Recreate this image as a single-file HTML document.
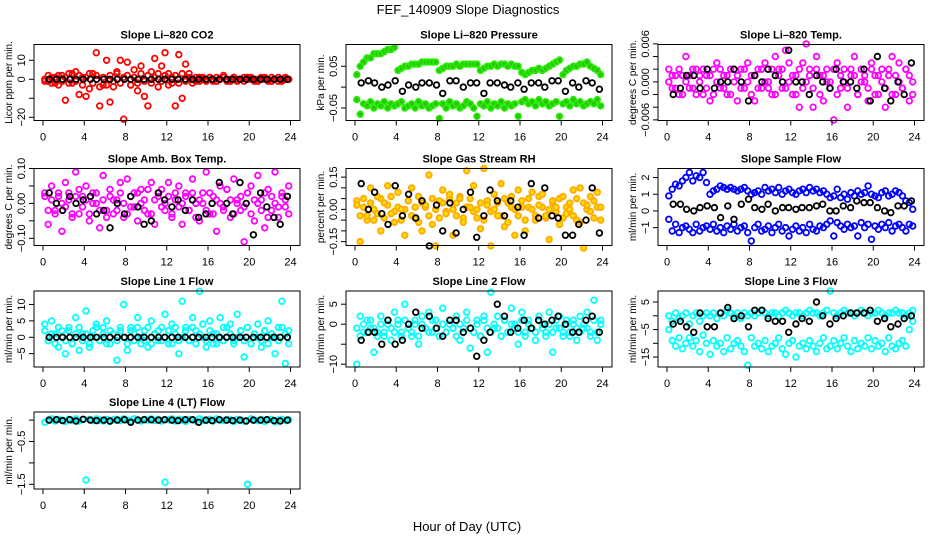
<!DOCTYPE html>
<html><head><meta charset="utf-8"><style>
html,body{margin:0;padding:0;background:#fff;}
svg{display:block;font-family:"Liberation Sans",Arial,sans-serif;}
</style></head><body>
<svg id="chart" width="936" height="540" viewBox="0 0 936 540">
<text x="468" y="14" text-anchor="middle" font-size="13">FEF_140909  Slope Diagnostics</text>
<text x="467" y="531" text-anchor="middle" font-size="13">Hour of Day (UTC)</text>
</svg>
<script>
const hours72=[0.17,0.5,0.83,1.17,1.5,1.83,2.17,2.5,2.83,3.17,3.5,3.83,4.17,4.5,4.83,5.17,5.5,5.83,6.17,6.5,6.83,7.17,7.5,7.83,8.17,8.5,8.83,9.17,9.5,9.83,10.17,10.5,10.83,11.17,11.5,11.83,12.17,12.5,12.83,13.17,13.5,13.83,14.17,14.5,14.83,15.17,15.5,15.83,16.17,16.5,16.83,17.17,17.5,17.83,18.17,18.5,18.83,19.17,19.5,19.83,20.17,20.5,20.83,21.17,21.5,21.83,22.17,22.5,22.83,23.17,23.5,23.83];
const hours36=[0.6,1.3,1.9,2.6,3.2,3.9,4.6,5.2,5.9,6.5,7.2,7.9,8.5,9.2,9.8,10.5,11.2,11.8,12.5,13.1,13.8,14.5,15.1,15.8,16.4,17.1,17.8,18.4,19.1,19.7,20.4,21.1,21.7,22.4,23,23.7];
const xTicks=[0,4,8,12,16,20,24];

const co2Red=[0,-1,1,-2,2,-1,-11,3,-2,4,-8,1,-9,-5,3,14,-14,-3,10,-12,-4,4,10,-21,9,-3,5,-6,7,-9,-14,4,11,-4,7,14,3,-2,-14,13,-10,8,3,-2,1,-1,1,0,1,-1,1,0,2,-1,0,1,-1,0,1,0,1,0,-1,0,1,0,-1,0,1,-1,0,0];
const co2Band=[-1,2,-2,1,-3,2,1,-2,3,-1,2,-3,1,3,-2,2,-4,1,-3,2,-1,3,-2,1,2,-3,1,-2,3,-1,2,-2,1,3,-1,2,-3,1,2,-2,3,-1,1,0,-1,1,0,-1,1,0,-1,0,1,0,-1,1,0,0,-1,1,0,-1,0,1,0,-1,1,0,-1,0,1,0];
const co2Black=[0,0,0,0,0,0,0,0,0,0,0,0,0,0,0,0,0,0,0,0,0,0,0,0,0,0,0,0,0,0,0,0,0,0,0,0];
const presUpper=[0.03,0.05,0.06,0.07,0.07,0.08,0.08,0.08,0.085,0.09,0.09,0.095,0.04,0.045,0.05,0.05,0.055,0.055,0.055,0.06,0.06,0.06,0.06,0.06,0.04,0.045,0.05,0.05,0.05,0.055,0.05,0.055,0.055,0.055,0.055,0.055,0.04,0.045,0.05,0.05,0.055,0.05,0.055,0.055,0.05,0.055,0.05,0.05,0.035,0.03,0.035,0.04,0.04,0.045,0.04,0.045,0.05,0.055,0.06,0.065,0.03,0.04,0.045,0.05,0.05,0.055,0.055,0.06,0.05,0.045,0.04,0.03];
const presLower=[-0.03,-0.065,-0.04,-0.045,-0.035,-0.05,-0.04,-0.045,-0.035,-0.05,-0.04,-0.045,-0.04,-0.035,-0.05,-0.045,-0.04,-0.05,-0.035,-0.045,-0.04,-0.05,-0.045,-0.04,-0.075,-0.04,-0.05,-0.035,-0.045,-0.04,-0.05,-0.045,-0.035,-0.04,-0.05,-0.07,-0.04,-0.045,-0.035,-0.05,-0.04,-0.045,-0.035,-0.05,-0.04,-0.045,-0.04,-0.07,-0.035,-0.03,-0.04,-0.035,-0.045,-0.03,-0.04,-0.035,-0.045,-0.04,-0.035,-0.07,-0.04,-0.035,-0.045,-0.03,-0.04,-0.035,-0.045,-0.04,-0.035,-0.04,-0.03,-0.045];
const presBlack=[0.01,0.015,0.01,0,0.005,0.015,-0.01,0.005,0,0.01,0.01,0.005,-0.015,0.015,0.015,0,0.01,0.01,-0.015,0.01,0.01,0.005,0,0.01,-0.005,0.01,0.01,0,0.015,0.015,-0.01,0.01,0,0.015,0.01,-0.005];
const tempMag=[0,0.001,-0.001,0.002,-0.002,0.004,0.001,-0.001,0.002,0,-0.002,0.001,-0.003,0.002,0.003,-0.001,0.001,-0.002,0.002,0,-0.003,0.002,-0.001,0.003,0.001,-0.003,0.002,-0.001,0.003,0,-0.002,0.004,0.002,-0.001,0.005,0.003,-0.002,0.001,-0.004,0.003,0.006,0.002,-0.004,0.004,0.001,-0.003,0.002,0,-0.006,0.003,-0.001,0.002,-0.004,0.001,0.004,-0.002,0.002,0,-0.003,0.003,0.001,-0.002,0.002,-0.004,0.001,0.004,-0.002,0.003,-0.001,0.002,-0.003,0];
const tempBand=[0.002,-0.001,0.001,-0.002,0.001,0,-0.001,0.002,-0.002,0.001,0.002,-0.001,0.001,-0.002,0,0.002,-0.001,0.001,-0.002,0.002,0.001,-0.001,0.002,0,-0.002,0.001,-0.001,0.002,0,-0.001,0.002,-0.002,0.001,0.002,-0.001,0,0.001,-0.002,0.002,-0.001,0,0.001,-0.001,0.002,-0.002,0.001,0,-0.001,0.002,-0.002,0.001,0,-0.001,0.002,0.001,-0.002,0,0.001,-0.001,0.002,-0.002,0.001,0,-0.001,0.002,-0.002,0.001,0,-0.001,0.002,0.001,-0.002];
const tempBlack=[-0.002,-0.001,0.001,0.001,-0.001,0.002,-0.001,0,0,0.002,0,-0.003,0.001,0,0.002,0.001,0,0.005,0,0,-0.002,0.001,0,-0.001,0.002,0,0,-0.001,0.002,-0.003,0.004,-0.001,-0.003,0,-0.002,0.003];
const ambMag=[0.02,-0.06,0.05,-0.02,0.03,-0.08,0.06,0.01,-0.04,0.09,-0.03,0.02,0.05,-0.05,0.03,0,-0.07,0.08,-0.02,0.04,-0.03,0.01,0.06,-0.04,0.07,-0.01,0.03,-0.05,0.04,0.01,-0.03,0.06,-0.06,0.02,0.04,-0.02,0.06,-0.04,0.01,0.05,-0.06,0.03,-0.02,0.07,0,-0.05,0.03,0.09,-0.03,0.02,-0.08,0.05,-0.01,0.04,-0.04,0.07,0.01,-0.02,-0.11,0.03,0.05,-0.05,0.08,0.01,-0.07,0.04,-0.02,0.09,-0.04,0.02,-0.01,0.05];
const ambBand=[0.03,-0.02,0.01,-0.03,0.02,0,-0.01,0.03,-0.03,0.02,0.04,-0.01,0.01,-0.03,0,0.03,-0.02,0.01,-0.04,0.02,0.01,-0.02,0.03,0,-0.03,0.02,-0.01,0.03,0,-0.02,0.04,-0.03,0.01,0.03,-0.01,0,0.02,-0.03,0.03,-0.01,0,0.02,-0.02,0.03,-0.04,0.01,0,-0.02,0.03,-0.03,0.01,0,-0.02,0.04,0.01,-0.03,0,0.02,-0.01,0.03,-0.03,0.01,0,-0.02,0.03,-0.04,0.02,0,-0.01,0.03,0.01,-0.03];
const ambBlack=[0.03,0,-0.02,0.02,0,0.01,0.02,-0.03,-0.02,-0.07,0,-0.03,0.02,-0.01,-0.06,-0.05,0.03,0.01,-0.01,0.01,-0.02,0.01,-0.04,-0.03,0,0.06,0,-0.03,0.06,0,-0.09,0.03,-0.01,-0.04,-0.06,0.02];
const rhOrange=[0.02,-0.15,0.05,-0.03,0.1,-0.05,0.06,-0.1,0.03,0.11,-0.02,-0.06,0.08,0,-0.12,0.04,0.1,-0.04,0.06,-0.1,0.02,0.16,-0.07,-0.17,0.04,0.09,-0.02,0.07,-0.12,0.03,0.05,-0.06,0.18,0.01,0.11,-0.04,-0.09,0.19,0.02,-0.17,0.07,-0.03,0.12,-0.08,0.03,0.06,-0.12,0.09,0.01,-0.1,0.05,0.08,-0.05,0.02,0.07,-0.03,-0.14,0.04,0.01,-0.07,0.06,-0.02,0.03,0.09,-0.05,0.1,-0.18,0.02,0.06,-0.04,0.08,0.01];
const rhBand=[0.04,-0.03,0.01,-0.05,0.03,0,-0.02,0.05,-0.04,0.02,0.06,-0.01,0.01,-0.05,0,0.04,-0.03,0.01,-0.06,0.03,0.01,-0.03,0.05,0,-0.04,0.03,-0.01,0.05,0,-0.03,0.06,-0.04,0.01,0.05,-0.01,0,0.03,-0.05,0.04,-0.01,0,0.03,-0.03,0.05,-0.06,0.01,0,-0.03,0.04,-0.05,0.01,0,-0.03,0.06,0.01,-0.04,0,0.03,-0.01,0.05,-0.04,0.01,0,-0.03,0.05,-0.06,0.03,0,-0.01,0.04,0.01,-0.05];
const rhBlack=[0.12,0,0.08,-0.02,-0.07,0.11,-0.03,0.07,-0.04,0.04,-0.17,0.02,-0.1,0.03,-0.11,0,0.08,-0.13,-0.03,0.09,0.04,-0.03,0.04,0.01,-0.12,0.12,-0.04,0.1,-0.03,-0.04,-0.12,-0.12,-0.07,-0.05,0.1,-0.11];
const flowUpper=[0.9,1.3,1.6,1.5,1.8,2.0,2.3,1.8,2.1,2.0,2.3,1.7,1.0,1.2,1.3,1.5,1.4,1.3,1.4,1.3,1.2,1.3,1.4,1.2,1.0,1.1,1.2,1.0,1.4,1.2,1.3,1.1,1.4,1.0,1.2,1.3,1.1,1.0,1.2,1.3,1.1,1.4,1.2,1.3,1.1,1.2,1.0,0.8,0.9,1.3,0.8,1.0,0.7,1.1,0.9,1.2,1.0,1.1,1.5,1.0,0.9,0.8,1.1,1.2,0.9,1.0,1.2,1.1,0.9,0.6,0.5,0.1];
const flowLower=[-0.5,-1.2,-0.8,-1.3,-1.0,-0.9,-1.1,-1.3,-0.8,-1.2,-1.0,-0.9,-1.1,-0.8,-1.2,-1.0,-1.3,-0.9,-1.1,-0.8,-1.2,-1.0,-0.9,-1.3,-1.8,-1.0,-0.8,-1.2,-1.1,-0.9,-1.3,-1.0,-0.8,-1.2,-1.0,-1.5,-1.1,-0.9,-1.2,-1.0,-1.3,-0.8,-1.1,-1.2,-0.9,-1.0,-0.8,-0.6,-1.5,-0.7,-0.9,-1.1,-0.8,-1.0,-0.9,-1.5,-0.7,-1.0,-0.8,-1.7,-0.9,-1.1,-0.8,-1.0,-0.7,-1.2,-0.9,-0.8,-1.0,-1.2,-0.8,-0.9];
const flowBlack=[0.4,0.4,0.1,0,0.2,0.3,0.2,-0.4,0.3,-0.5,0.4,0.7,0.2,0.1,0.4,0,0.2,0.2,0.1,0.2,0.2,0.3,0.4,0,0,0.3,0.2,0.6,0.5,0.5,0.2,0,-0.1,0.3,0.3,0.6];
const line1Cyan=[4,-1,5,1,-3,2,-5,3,-2,6,-4,1,8,-3,2,4,-1,3,5,-2,1,-7,2,10,-4,3,1,6,-2,2,-3,5,1,-1,3,7,-2,4,1,-5,11,3,-1,6,2,14,4,-3,5,1,-2,6,3,0,4,-1,7,2,-6,3,-2,1,4,-3,2,5,0,-5,3,11,-8,2];
const line1Band=[2,-1,1,-2,3,0,-1,2,-2,1,3,-1,1,-2,0,3,-1,1,-2,2,1,-1,3,0,-2,2,-1,3,0,-1,3,-2,1,2,-1,0,2,-2,3,-1,0,2,-1,3,-2,1,0,-1,2,-2,1,0,-1,3,1,-2,0,2,-1,3,-2,1,0,-1,2,-2,1,0,-1,3,1,-2];
const line1Black=[0,0,0,0,0,0,0,0,0,0,0,0,0,0,0,0,0,0,0,0,0,0,0,0,0,0,0,0,0,0,0,0,0,0,0,0];
const line2Cyan=[-10,2,-2,1,-1,-7,-3,2,-2,0,-4,3,1,-2,5,-1,-3,0,-5,2,-1,3,-2,1,-3,4,-2,0,-1,2,-4,-1,3,-6,-2,1,-3,2,-7,8,-1,2,-3,1,-2,4,0,-5,3,-2,1,-1,-4,2,0,-2,3,-7,-1,2,-3,1,-2,0,-4,2,-1,3,-2,6,-4,1];
const line2Band=[-1,-3,0,-2,1,-1,-2,0,-3,1,-1,-2,0,-3,1,-1,-2,1,-3,0,-1,-2,1,-1,-3,0,-2,1,-1,-3,0,-2,1,-1,-2,0,-3,1,-1,-2,0,-1,-3,1,-2,0,-1,-2,1,-3,0,-1,-2,1,-1,-3,0,-2,1,-1,-2,0,-3,1,-1,-2,0,-1,-3,1,-2,0];
const line2Black=[-4,-2,-2,-5,1,-5,-4,0,3,-1,2,-1,-3,1,1,-2,-1,-8,-4,-2,5,2,-2,-1,1,-1,1,0,1,2,0,-2,-2,1,2,-2];
const line3Upper=[0,-2,1,-1,0,1,-3,0,1,-2,0,1,0,1,-1,1,0,2,1,0,1,-1,1,0,1,0,1,2,1,0,1,1,0,1,2,1,0,1,1,0,1,2,1,1,0,1,2,9,1,0,1,2,1,1,0,1,2,1,0,1,1,2,1,0,1,1,2,1,1,0,1,2];
const line3Lower=[-5,-9,-11,-8,-12,-10,-8,-11,-9,-13,-7,-10,-14,-9,-11,-10,-13,-8,-12,-10,-9,-11,-13,-18,-8,-11,-10,-12,-9,-13,-11,-10,-8,-12,-14,-10,-9,-15,-11,-10,-12,-9,-11,-13,-10,-8,-12,-11,-9,-12,-10,-8,-11,-13,-9,-12,-10,-11,-8,-12,-9,-11,-10,-13,-8,-11,-12,-10,-9,-11,-5,-2];
const line3Black=[-3,-2,-4,-6,1,-4,-4,1,3,-1,0,-4,2,2,-1,-2,-2,-6,-3,-1,-2,5,0,-3,-1,0,1,1,1,2,-2,-1,-4,-3,-1,0];
const line4Cyan=[-0.05,0,0.03,-0.02,0.02,0,-0.03,0.02,-0.01,0.03,-0.02,0.01,-1.4,0.02,-0.01,0.03,0,-0.02,0.02,-0.03,0.01,0.02,-0.01,0.03,0,-0.02,0.03,0.01,-0.02,0.02,0,0.03,-0.01,0.02,-0.02,-1.45,0.01,0.03,-0.02,0.02,0,-0.03,0.02,0.01,-0.02,0.03,0,-0.01,0.02,-0.02,0.03,0,-0.01,0.02,0.01,-0.03,0.02,0,-0.02,-1.5,0.03,0,-0.01,0.02,-0.03,0.01,0.02,-0.04,0,0.02,-0.01,0.01];
const line4Black=[0,0.01,-0.01,0.01,-0.02,0.02,0,-0.01,0,-0.02,0,0.01,-0.05,0,0.01,0.01,0,0.01,0,-0.01,0.01,0.01,-0.05,0,-0.01,0.01,0,-0.01,0,-0.02,0,0,0.01,-0.01,-0.02,0];

const colLeft=[34,346,658];
const rowTop=[44.5,168.5,291,412];
const rowBottom=[120.5,245.5,367,489];
const NS="http://www.w3.org/2000/svg";
const svg=document.getElementById('chart');
function mk(tag,attrs,parent){const e=document.createElementNS(NS,tag);for(const k in attrs)e.setAttribute(k,attrs[k]);(parent||svg).appendChild(e);return e;}

const panels=[
 {slug:'li820-co2',title:'Slope Li\u2013820 CO2',ylab:'Licor ppm per min.',c:0,r:0,ymin:-21.7,ymax:18.3,ticks:[-20,-10,0,10],labels:['\u221220','','0','10'],
  series:[{v:co2Band,h:hours72,s:'#ff0000',f:'none'},{v:co2Red,h:hours72,s:'#ff0000',f:'none'},{v:co2Black,h:hours36,s:'#000',f:'none'}]},
 {slug:'li820-pressure',title:'Slope Li\u2013820 Pressure',ylab:'kPa per min.',c:1,r:0,ymin:-0.08,ymax:0.102,ticks:[-0.05,0,0.05],labels:['\u22120.05','','0.05'],
  series:[{v:presUpper,h:hours72,s:'#22ee00',f:'#33bb11'},{v:presLower,h:hours72,s:'#22ee00',f:'#33bb11'},{v:presBlack,h:hours36,s:'#000',f:'none'}]},
 {slug:'li820-temp',title:'Slope Li\u2013820 Temp.',ylab:'degrees C per min.',c:2,r:0,ymin:-0.0061,ymax:0.0059,ticks:[-0.006,-0.004,-0.002,0,0.002,0.004,0.006],labels:['\u22120.006','','','0.000','','','0.006'],
  series:[{v:tempBand,h:hours72,s:'#ff00ff',f:'none'},{v:tempMag,h:hours72,s:'#ff00ff',f:'none'},{v:tempBlack,h:hours36,s:'#000',f:'none'}]},
 {slug:'amb-box-temp',title:'Slope Amb. Box Temp.',ylab:'degrees C per min.',c:0,r:1,ymin:-0.1206,ymax:0.1,ticks:[-0.1,-0.05,0,0.05,0.1],labels:['\u22120.10','','0.00','','0.10'],
  series:[{v:ambBand,h:hours72,s:'#ff00ff',f:'none'},{v:ambMag,h:hours72,s:'#ff00ff',f:'none'},{v:ambBlack,h:hours36,s:'#000',f:'none'}]},
 {slug:'gas-stream-rh',title:'Slope Gas Stream RH',ylab:'percent per min.',c:1,r:1,ymin:-0.168,ymax:0.19,ticks:[-0.15,-0.1,-0.05,0,0.05,0.1,0.15],labels:['\u22120.15','','','0.00','','','0.15'],
  series:[{v:rhBand,h:hours72,s:'#ffaa00',f:'#ffdd00'},{v:rhOrange,h:hours72,s:'#ffaa00',f:'#ffdd00'},{v:rhBlack,h:hours36,s:'#000',f:'none'}]},
 {slug:'sample-flow',title:'Slope Sample Flow',ylab:'ml/min per min.',c:2,r:1,ymin:-2.07,ymax:2.54,ticks:[-1,0,1,2],labels:['\u22121','0','1','2'],
  series:[{v:flowUpper,h:hours72,s:'#0000ff',f:'none'},{v:flowLower,h:hours72,s:'#0000ff',f:'none'},{v:flowBlack,h:hours36,s:'#000',f:'none'}]},
 {slug:'line1-flow',title:'Slope Line 1 Flow',ylab:'ml/min per min.',c:0,r:2,ymin:-9.06,ymax:14.1,ticks:[-5,0,5,10],labels:['\u22125','0','5','10'],
  series:[{v:line1Band,h:hours72,s:'#00ffff',f:'none'},{v:line1Cyan,h:hours72,s:'#00ffff',f:'none'},{v:line1Black,h:hours36,s:'#000',f:'none'}]},
 {slug:'line2-flow',title:'Slope Line 2 Flow',ylab:'ml/min per min.',c:1,r:2,ymin:-10.7,ymax:8.3,ticks:[-10,-5,0,5],labels:['\u221210','','0','5'],
  series:[{v:line2Band,h:hours72,s:'#00ffff',f:'none'},{v:line2Cyan,h:hours72,s:'#00ffff',f:'none'},{v:line2Black,h:hours36,s:'#000',f:'none'}]},
 {slug:'line3-flow',title:'Slope Line 3 Flow',ylab:'ml/min per min.',c:2,r:2,ymin:-18.6,ymax:9.0,ticks:[-15,-10,-5,0,5],labels:['\u221215','','\u22125','','5'],
  series:[{v:line3Upper,h:hours72,s:'#00ffff',f:'none'},{v:line3Lower,h:hours72,s:'#00ffff',f:'none'},{v:line3Black,h:hours36,s:'#000',f:'none'}]},
 {slug:'line4-lt-flow',title:'Slope Line 4 (LT) Flow',ylab:'ml/min per min.',c:0,r:3,ymin:-1.61,ymax:0.19,ticks:[-1.5,-1,-0.5,0],labels:['\u22121.5','','\u22120.5',''],
  series:[{v:line4Cyan,h:hours72,s:'#00ffff',f:'none'},{v:line4Black,h:hours36,s:'#000',f:'none'}]}
];

panels.forEach(p=>{
  const L=colLeft[p.c], R=L+266, T=rowTop[p.r], B=rowBottom[p.r];
  const xs=h=>L+9+h*(247.5/24);
  const ys=v=>B-(v-p.ymin)/(p.ymax-p.ymin)*(B-T);
  const g=mk('g',{});
  
  
  const t=mk('text',{x:(L+R)/2,y:T-6,'text-anchor':'middle','font-size':'11','font-weight':'bold'},g);
  t.textContent=p.title;
  
  
  const yl=mk('text',{x:0,y:0,'text-anchor':'middle','font-size':'10',transform:`translate(${L-22},${(T+B)/2}) rotate(-90)`},g);
  yl.textContent=p.ylab;
  
  
  const pg=mk('g',{},g);
  
  
  p.series.forEach(s=>{
    const n=Math.min(s.v.length,s.h.length);
    for(let i=0;i<n;i++){
      const c=mk('circle',{cx:xs(s.h[i]).toFixed(1),cy:ys(s.v[i]).toFixed(1),r:2.8,fill:s.f,stroke:s.s,'stroke-width':1.8},pg);
      
      
    }
  });
  const bx=mk('rect',{x:L,y:T,width:R-L,height:B-T,fill:'none',stroke:'#000','stroke-width':1},g);
  
  
  xTicks.forEach(h=>{
    const x=xs(h);
    mk('line',{x1:x,x2:x,y1:B,y2:B+5,stroke:'#000'},g);
    const tl=mk('text',{x:x,y:B+20,'text-anchor':'middle','font-size':'11'},g);
    tl.textContent=String(h);
    
    
  });
  p.ticks.forEach((v,i)=>{
    const y=ys(v);
    mk('line',{x1:L-5,x2:L,y1:y,y2:y,stroke:'#000'},g);
    if(p.labels[i]){
      const tl=mk('text',{x:0,y:0,'text-anchor':'middle','font-size':'11',transform:`translate(${L-9},${y}) rotate(-90)`},g);
      tl.textContent=p.labels[i];
      
      
    }
  });
});
</script>
</body></html>
